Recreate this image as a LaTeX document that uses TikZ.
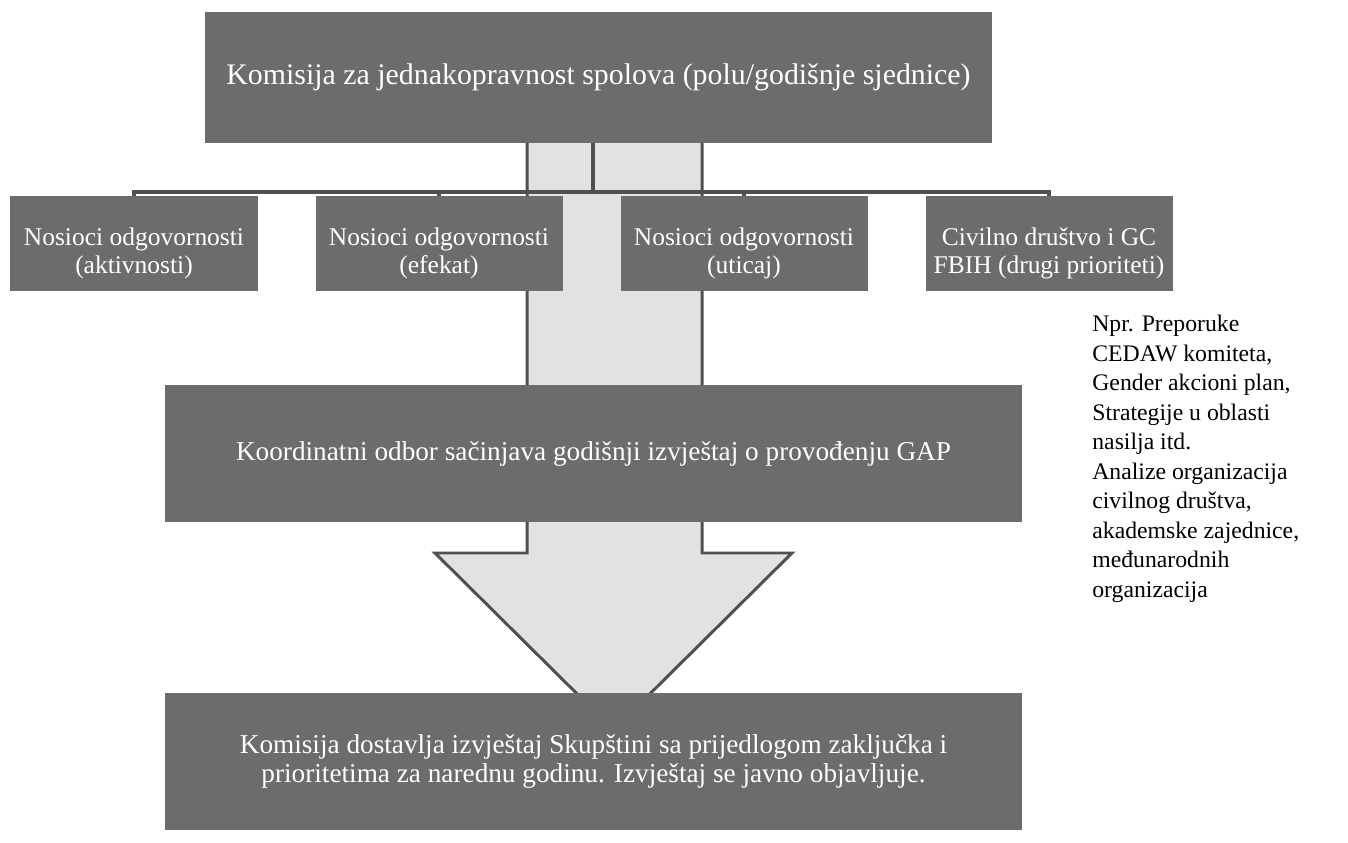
\documentclass[tikz,border=0pt]{standalone}
\usepackage{fontspec}
\setmainfont{Liberation Serif}
\definecolor{boxgray}{RGB}{108,108,108}
\definecolor{linegray}{RGB}{80,80,80}
\definecolor{arrowgray}{RGB}{226,226,226}
\tikzset{
    box/.style={fill=boxgray, text=white, align=center, inner sep=0pt,
        font=\fontsize{15.5}{16}\selectfont},
    kid/.style={box, minimum width=4.94cm, minimum height=1.9cm, text height=37pt,
        font=\fontsize{14.5}{16}\selectfont},
    wide/.style={box, minimum width=17.14cm, minimum height=2.74cm},
    conn/.style={draw=linegray, line width=2.3pt},
}
\begin{document}
\begin{tikzpicture}[node distance=6.1cm, auto]
            \useasboundingbox (0,0) rectangle (26.96,-16.86);
            % big arrow behind the boxes
            \draw[draw=linegray, line width=1.7pt, fill=arrowgray] (10.54,-2.6) -- (14.04,-2.6) -- (14.04,-11.06) -- (15.84,-11.06)
                -- (12.27,-14.6) -- (8.7,-11.06) -- (10.54,-11.06) -- cycle;
            \node(K) [box, minimum width=15.74cm, minimum height=2.62cm, font=\fontsize{17}{19}\selectfont]
                at (11.97,-1.55) {Komisija za jednakopravnost spolova (polu/godišnje sjednice)};
            \node(A) [kid] at (2.68,-4.87) {Nosioci odgovornosti\\(aktivnosti)};
            \node(E) [kid, right of=A] {Nosioci odgovornosti\\(efekat)};
            \node(U) [kid, right of=E] {Nosioci odgovornosti\\(uticaj)};
            \node(C) [kid, right of=U] {Civilno društvo i GC\\FBIH (drugi prioriteti)};
            \node(O) [wide] at (11.87,-9.07) {Koordinatni odbor sačinjava godišnji izvještaj o provođenju GAP};
            \node(S) [wide] at (11.87,-15.23) {Komisija dostavlja izvještaj Skupštini sa prijedlogom zaključka i\\prioritetima za narednu godinu. Izvještaj se javno objavljuje.};
            \node(N) [anchor=north west, align=left, inner sep=0pt, font=\fontsize{13.5}{16.8}\selectfont]
                at (21.84,-6.3) {Npr. Preporuke\\CEDAW komiteta,\\Gender akcioni plan,\\Strategije u oblasti\\nasilja itd.\\Analize organizacija\\civilnog društva,\\akademske zajednice,\\međunarodnih\\organizacija};
            \coordinate(H) at (11.86,-3.84);
            \draw[conn] (H |- K.south) -- (H);
            \foreach \n in {A,E,U,C} \draw[conn] (H) -| (\n.north);
            \end{tikzpicture}
\end{document}
